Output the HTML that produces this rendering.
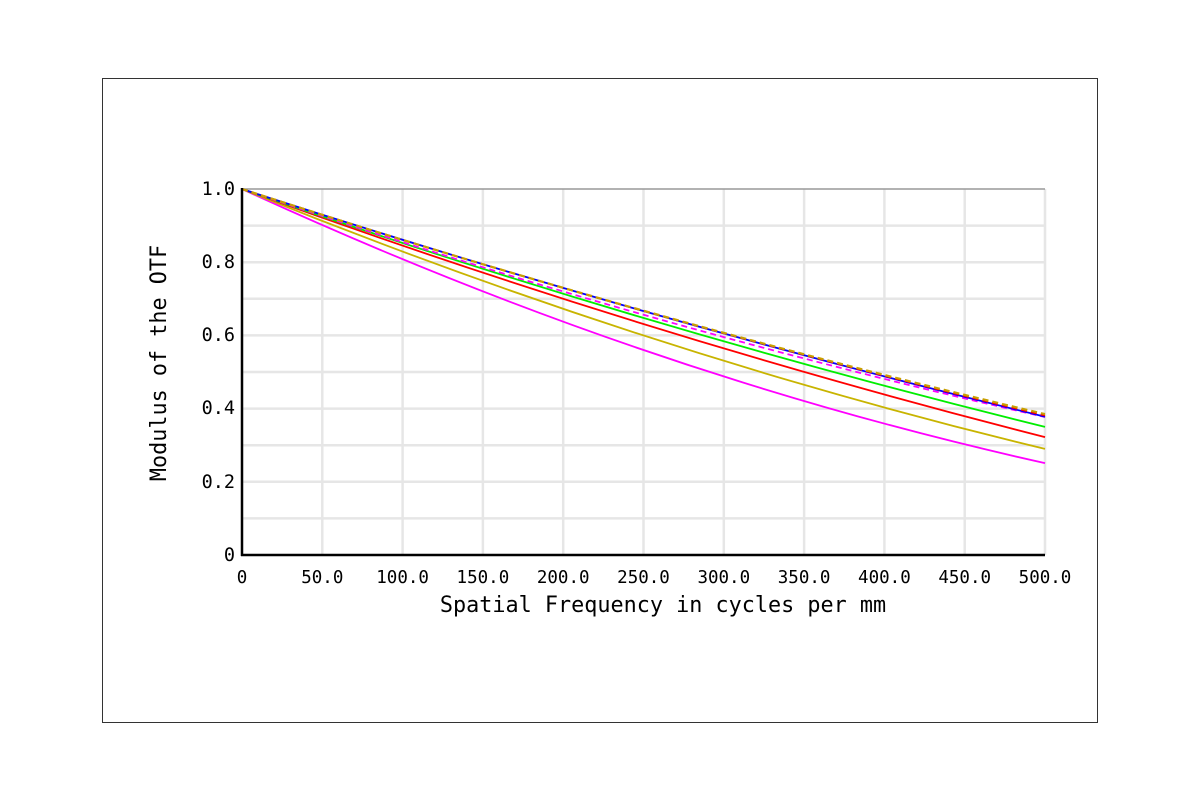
<!DOCTYPE html>
<html><head><style>
html,body{margin:0;padding:0;background:#fff;}
svg{display:block;}
text{font-family:"DejaVu Sans Mono","Liberation Mono",monospace;fill:#000;}
</style></head><body>
<svg width="1200" height="800" xmlns="http://www.w3.org/2000/svg">
<rect x="102.5" y="78.5" width="995" height="644" fill="#fff" stroke="#333" stroke-width="1"/>
<g stroke="#e6e6e6" stroke-width="2.5">
<line x1="242" y1="225.6" x2="1045" y2="225.6"/>
<line x1="242" y1="262.2" x2="1045" y2="262.2"/>
<line x1="242" y1="298.8" x2="1045" y2="298.8"/>
<line x1="242" y1="335.4" x2="1045" y2="335.4"/>
<line x1="242" y1="372" x2="1045" y2="372"/>
<line x1="242" y1="408.6" x2="1045" y2="408.6"/>
<line x1="242" y1="445.2" x2="1045" y2="445.2"/>
<line x1="242" y1="481.8" x2="1045" y2="481.8"/>
<line x1="242" y1="518.4" x2="1045" y2="518.4"/>
<line x1="322.3" y1="189" x2="322.3" y2="555"/>
<line x1="402.6" y1="189" x2="402.6" y2="555"/>
<line x1="482.9" y1="189" x2="482.9" y2="555"/>
<line x1="563.2" y1="189" x2="563.2" y2="555"/>
<line x1="643.5" y1="189" x2="643.5" y2="555"/>
<line x1="723.8" y1="189" x2="723.8" y2="555"/>
<line x1="804.1" y1="189" x2="804.1" y2="555"/>
<line x1="884.4" y1="189" x2="884.4" y2="555"/>
<line x1="964.7" y1="189" x2="964.7" y2="555"/>
<line x1="1045" y1="189" x2="1045" y2="555"/>
</g>
<line x1="242" y1="189" x2="1045" y2="189" stroke="#999" stroke-width="1.5"/>
<g fill="none" stroke-width="1.8">
<path d="M242,189 Q643.5,374 1045,463.1" stroke="#ff00ff"/>
<path d="M242,189 Q643.5,352 1045,448.9" stroke="#c8b400"/>
<path d="M242,189 Q643.5,335 1045,437.1" stroke="#ff0000"/>
<path d="M242,189 Q643.5,328 1045,426.9" stroke="#00ee00"/>
<path d="M242,189 Q643.5,326.5 1045,417" stroke="#ff00ff" stroke-dasharray="6,4"/>
<path d="M242,189 Q643.5,319.3 1045,416.7" stroke="#0000ff"/>
<path d="M242,189 Q643.5,319.6 1045,415.5" stroke="#ff0000" stroke-dasharray="6,4"/>
<path d="M242,189 Q643.5,319.8 1045,414.1" stroke="#c8a000" stroke-dasharray="6,4" stroke-width="2.2"/>
</g>
<line x1="242" y1="188" x2="242" y2="556" stroke="#000" stroke-width="2.5"/>
<line x1="241" y1="555" x2="1045" y2="555" stroke="#000" stroke-width="2.5"/>
<g font-size="18.5" text-anchor="end">
<text x="235" y="195">1.0</text>
<text x="235" y="268">0.8</text>
<text x="235" y="341">0.6</text>
<text x="235" y="414">0.4</text>
<text x="235" y="488">0.2</text>
<text x="235" y="561">0</text>
</g>
<g font-size="17.5" text-anchor="middle">
<text x="242" y="583">0</text>
<text x="322.3" y="583">50.0</text>
<text x="402.6" y="583">100.0</text>
<text x="482.9" y="583">150.0</text>
<text x="563.2" y="583">200.0</text>
<text x="643.5" y="583">250.0</text>
<text x="723.8" y="583">300.0</text>
<text x="804.1" y="583">350.0</text>
<text x="884.4" y="583">400.0</text>
<text x="964.7" y="583">450.0</text>
<text x="1045" y="583">500.0</text>
</g>
<text x="663" y="612" font-size="21.8" text-anchor="middle">Spatial Frequency in cycles per mm</text>
<text transform="translate(166,363) rotate(-90)" font-size="21.8" text-anchor="middle">Modulus of the OTF</text>
</svg>
</body></html>
